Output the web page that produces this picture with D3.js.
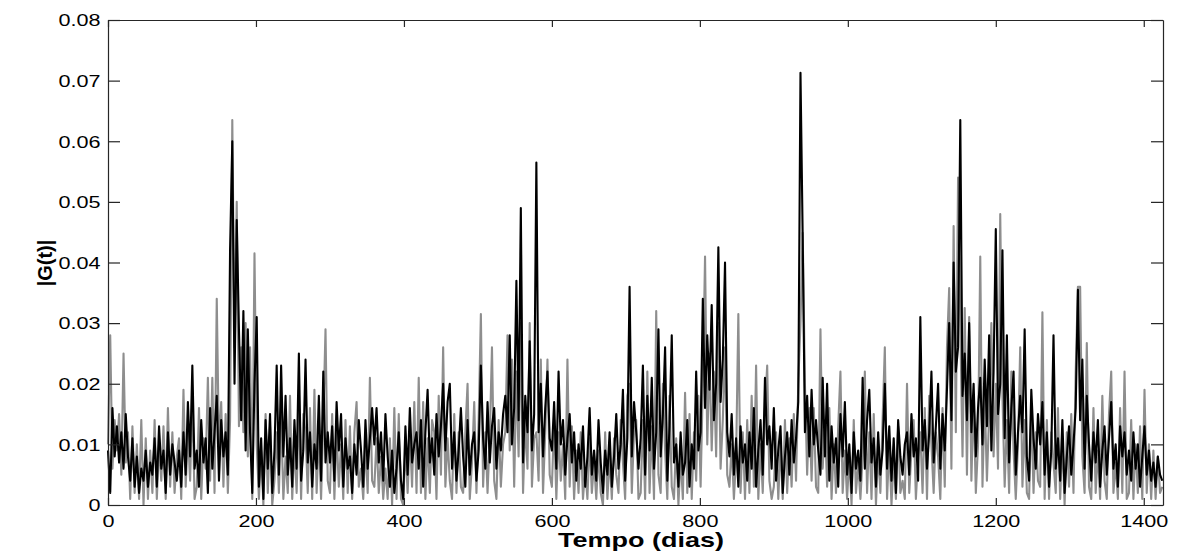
<!DOCTYPE html>
<html>
<head>
<meta charset="utf-8">
<script src="https://cdn.jsdelivr.net/npm/d3@7"></script>
<style>
  html, body { margin: 0; padding: 0; background: #fff; }
  svg { display: block; }
  text { font-family: "Liberation Sans", Arial, Helvetica, sans-serif; }
</style>
</head>
<body>
<svg id="chart" width="1185" height="557"></svg>
<script>
// ---- data (|G(t)| in units of 1e-3, one sample every 3 days starting at day 0) ----
const dayStart = 0;
const dayStep = 3;

const blackSeries = [
  9, 2, 16, 8, 13, 7, 12, 6, 15, 8, 4, 11, 3, 8, 2, 6, 4, 9, 3, 7,
  5, 11, 3, 13, 6, 9, 2, 12, 5, 10, 7, 4, 9, 3, 12, 5, 17, 8, 23, 6,
  9, 3, 14, 7, 11, 2, 16, 6, 12, 18, 4, 14, 8, 12, 5, 42, 60, 20, 47, 29,
  14, 32, 9, 29, 12, 2, 20, 31, 3, 11, 1, 14, 6, 15, 2, 9, 23, 5, 23, 8,
  18, 5, 11, 3, 14, 6, 25, 4, 9, 24, 7, 12, 3, 10, 6, 18, 4, 22, 7, 12,
  7, 13, 4, 17, 9, 15, 3, 11, 6, 8, 2, 10, 5, 14, 9, 3, 14, 6, 11, 16,
  10, 16, 7, 12, 4, 15, 8, 3, 9, 2, 6, 12, 4, 1, 13, 5, 16, 7, 10, 12,
  6, 14, 3, 12, 19, 7, 11, 5, 15, 8, 13, 20, 9, 17, 20, 6, 12, 4, 9, 16,
  8, 3, 14, 5, 10, 12, 4, 9, 23, 11, 6, 17, 7, 13, 16, 6, 12, 9, 15, 18,
  12, 28, 10, 16, 37, 14, 49, 7, 18, 12, 27, 9, 15, 56.5, 12, 20, 8, 16, 22, 11,
  9, 17, 6, 22, 10, 14, 5, 11, 15, 7, 12, 4, 10, 6, 13, 3, 8, 16, 5, 9,
  4, 14, 7, 2, 9, 5, 12, 3, 8, 15, 6, 10, 19, 4, 11, 36, 8, 17, 12, 6,
  11, 23, 5, 18, 9, 21, 6, 12, 29, 8, 15, 26, 4, 13, 28, 7, 10, 3, 12, 5,
  7, 14, 3, 10, 6, 22, 9, 12, 34, 16, 28, 19, 33, 14, 20, 42.5, 17, 24, 40, 12,
  8, 15, 5, 11, 3, 13, 7, 10, 4, 12, 6, 16, 3, 9, 14, 5, 21, 10, 13, 6,
  16, 4, 9, 13, 2, 8, 12, 5, 14, 7, 11, 17, 71.3, 44, 12, 18, 8, 19, 10, 14,
  9, 5, 21, 8, 20, 4, 13, 7, 11, 3, 15, 8, 17, 5, 10, 2, 12, 6, 9, 4,
  21, 6, 14, 19, 7, 11, 3, 12, 5, 9, 20, 6, 13, 4, 11, 2, 14, 8, 5, 10,
  12, 5, 15, 8, 11, 4, 31, 9, 14, 6, 12, 22, 7, 13, 20, 6, 15, 9, 19, 30,
  14, 40, 22, 26, 63.5, 18, 25, 14, 30, 12, 20, 8, 16, 21, 10, 24, 13, 28, 9, 22,
  45.5, 15, 20, 42, 11, 28, 7, 16, 22, 5, 12, 18, 12, 29, 8, 4, 19, 11, 6, 15,
  10, 17, 5, 12, 3, 9, 28, 6, 11, 4, 14, 2, 8, 13, 5, 10, 16, 35.5, 14, 24,
  6, 18, 10, 4, 12, 7, 14, 3, 9, 13, 5, 11, 17, 6, 10, 3, 13, 8, 12, 5,
  9, 4, 12, 6, 10, 3, 8, 13, 5, 9, 4, 7, 3, 8, 5, 4
];

const graySeries = [
  10, 28, 6, 14, 9, 15, 5, 25, 7, 12, 1, 13, 2, 10, 1, 14, 0, 11, 1, 9,
  2, 14, 1, 10, 4, 13, 1, 16, 3, 12, 2, 8, 11, 1, 19, 3, 12, 4, 18, 1,
  3, 16, 1, 11, 6, 21, 4, 21, 2, 34, 9, 17, 3, 15, 2, 14, 63.5, 26, 50, 13,
  26, 12, 30, 8, 26, 1, 41.5, 10, 1, 9, 0, 15, 2, 13, 0, 4, 12, 2, 15, 1,
  8, 2, 18, 1, 10, 2, 17, 1, 15, 12, 2, 16, 1, 19, 2, 12, 1, 14, 29, 4,
  2, 15, 1, 12, 3, 10, 1, 14, 2, 13, 1, 12, 17, 3, 6, 1, 10, 2, 21, 4,
  3, 11, 2, 8, 1, 6, 1, 11, 0, 16, 1, 15, 1, 0, 10, 2, 12, 3, 17, 2,
  21, 2, 17, 1, 11, 2, 14, 12, 1, 18, 5, 26, 3, 11, 4, 1, 15, 2, 12, 3,
  2, 12, 20, 1, 7, 17, 2, 14, 31.5, 3, 12, 2, 11, 26, 4, 1, 14, 3, 10, 12,
  28, 9, 24, 3, 22, 8, 30, 2, 14, 6, 30, 3, 11, 12, 4, 24, 2, 12, 24, 5,
  3, 14, 1, 12, 4, 10, 1, 24, 3, 13, 1, 9, 2, 12, 1, 6, 1, 11, 2, 7,
  1, 9, 2, 0, 12, 1, 8, 1, 11, 5, 2, 14, 7, 1, 18, 20, 2, 12, 14, 1,
  2, 14, 1, 22, 2, 13, 1, 32, 5, 2, 20, 9, 1, 18, 3, 1, 11, 0, 8, 1,
  18.5, 2, 15, 1, 12, 4, 18, 3, 20, 41, 10, 25, 9, 22, 8, 30, 6, 14, 26, 5,
  3, 10, 1, 8, 31.5, 2, 12, 1, 14, 2, 18, 3, 23, 1, 10, 2, 16, 23, 4, 1,
  3, 12, 1, 10, 1, 14, 2, 11, 3, 15, 4, 20, 30, 44.9, 20, 5, 16, 4, 16, 3,
  2, 29, 6, 14, 3, 16, 1, 10, 2, 13, 22, 2, 9, 1, 8, 0, 14, 2, 7, 1,
  8, 22, 2, 12, 1, 15, 0, 9, 2, 14, 26, 1, 10, 0, 8, 1, 13, 2, 4, 1,
  20, 2, 9, 14, 1, 8, 12, 2, 16, 1, 18, 10, 2, 12, 8, 1, 16, 3, 26, 35.8,
  6, 46, 12, 54, 30, 8, 32.5, 5, 31, 4, 18, 2, 10, 41, 3, 18, 4, 15, 30, 8,
  20, 6, 48, 18, 3, 14, 2, 22, 9, 1, 10, 26, 3, 14, 2, 1, 16, 2, 12, 4,
  3, 31.8, 1, 14, 1, 12, 7, 2, 16, 1, 11, 0, 12, 3, 15, 2, 22, 36, 36, 8,
  2, 26.7, 3, 1, 16, 2, 9, 1, 18, 4, 1, 15, 22, 2, 7, 1, 16, 2, 22, 1,
  2, 14, 1, 10, 2, 13, 1, 19, 2, 10, 1, 9, 1, 8, 2, 3
];

const xTickValues = [0, 200, 400, 600, 800, 1000, 1200, 1400];
const yTickValues = [0, 10, 20, 30, 40, 50, 60, 70, 80];
const yTickLabels = ["0", "0.01", "0.02", "0.03", "0.04", "0.05", "0.06", "0.07", "0.08"];
const xLabel = "Tempo (dias)";
const yLabel = "|G(t)|";

// ---- layout ----
const M = { left: 108, right: 1163, top: 20, bottom: 505 };
const stretch = 1.35; // the original figure is horizontally stretched

const svg = d3.select("#chart");
const x = d3.scaleLinear().domain([0, 1426]).range([M.left, M.right]);
const y = d3.scaleLinear().domain([0, 80]).range([M.bottom, M.top]);

const dayOf = i => dayStart + i * dayStep;
const line = d3.line()
  .x((d, i) => x(dayOf(i)))
  .y(d => y(d));

svg.append("path")
  .datum(graySeries)
  .attr("fill", "none")
  .attr("stroke", "#8e8e8e")
  .attr("stroke-width", 2.1)
  .attr("stroke-linejoin", "round")
  .attr("d", line);

svg.append("path")
  .datum(blackSeries)
  .attr("fill", "none")
  .attr("stroke", "#000")
  .attr("stroke-width", 2.1)
  .attr("stroke-linejoin", "round")
  .attr("d", line);

// ---- axes (box with inward ticks) ----
const axisColor = "#262626";
function styleAxis(g) {
  g.selectAll("path.domain").attr("stroke", axisColor).attr("stroke-width", 1.2);
  g.selectAll(".tick line").attr("stroke", axisColor).attr("stroke-width", 1.2);
}

const gBottom = svg.append("g")
  .attr("transform", `translate(0,${M.bottom})`)
  .call(d3.axisBottom(x).tickValues(xTickValues).tickSize(-7).tickSizeOuter(0).tickFormat(d3.format("d")));
styleAxis(gBottom);
gBottom.selectAll(".tick text")
  .attr("y", 22).attr("dy", 0)
  .attr("font-size", 16)
  .attr("fill", "#000")
  .attr("text-anchor", "middle")
  .attr("transform", `scale(${stretch},1)`)
  .attr("x", 0);

const gTop = svg.append("g")
  .attr("transform", `translate(0,${M.top})`)
  .call(d3.axisTop(x).tickValues(xTickValues).tickSize(-7).tickSizeOuter(0).tickFormat(""));
styleAxis(gTop);

const gLeft = svg.append("g")
  .attr("transform", `translate(${M.left},0)`)
  .call(d3.axisLeft(y).tickValues(yTickValues).tickSize(-12).tickSizeOuter(0)
    .tickFormat((d, i) => yTickLabels[i]));
styleAxis(gLeft);
gLeft.selectAll(".tick text")
  .attr("font-size", 16)
  .attr("fill", "#000")
  .attr("text-anchor", "end")
  .attr("dy", "0.36em")
  .attr("x", -7.5 / stretch)
  .attr("transform", `scale(${stretch},1)`);

const gRight = svg.append("g")
  .attr("transform", `translate(${M.right},0)`)
  .call(d3.axisRight(y).tickValues(yTickValues).tickSize(-12).tickSizeOuter(0).tickFormat(""));
styleAxis(gRight);

// ---- axis titles ----
svg.append("text")
  .attr("transform", `translate(641,547) scale(${stretch},1)`)
  .attr("text-anchor", "middle")
  .attr("font-size", 20)
  .attr("font-weight", "bold")
  .attr("fill", "#000")
  .text(xLabel);

svg.append("text")
  .attr("transform", "translate(52,263) rotate(-90)")
  .attr("text-anchor", "middle")
  .attr("font-size", 20)
  .attr("font-weight", "bold")
  .attr("fill", "#000")
  .text(yLabel);
</script>
</body>
</html>
